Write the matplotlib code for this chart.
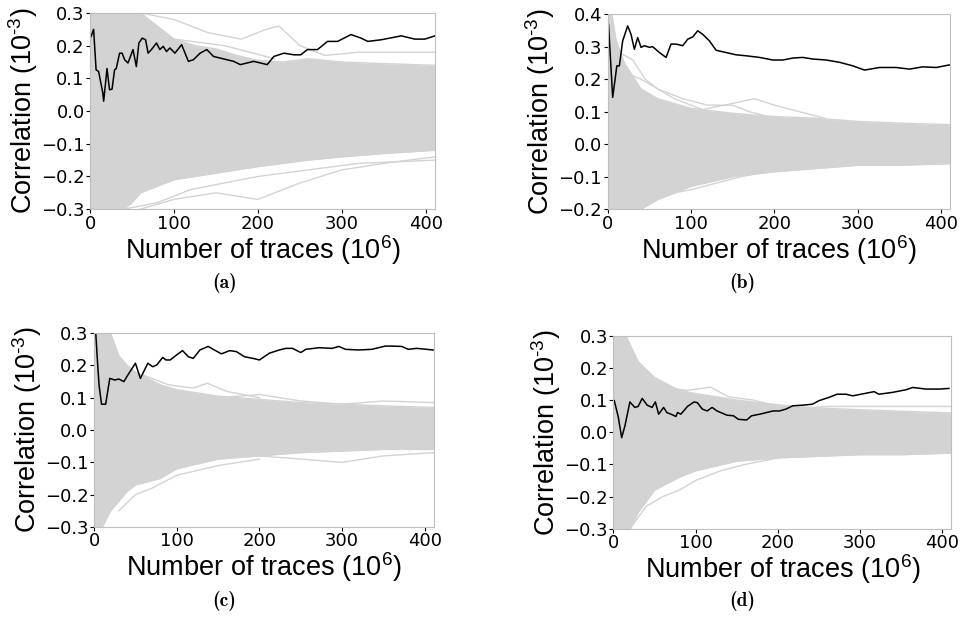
import matplotlib.pyplot as plt

# correct key guess (black line), values in 1e-3
a_x = [1, 4, 7, 10, 15, 16, 20, 23, 26, 29, 31, 35, 38, 41, 45, 51, 55, 58, 62, 66, 69, 73, 79, 83, 87, 91,
       95, 101, 109, 117, 123, 131, 139, 147, 155, 171, 179, 195, 211, 219, 231, 243, 251, 259, 271, 283, 295,
       311, 323, 331, 347, 371, 387, 399, 411]
a_y = [0.228, 0.25, 0.126, 0.121, 0.055, 0.03, 0.13, 0.065, 0.067, 0.126, 0.13, 0.177, 0.177, 0.157, 0.147,
       0.188, 0.136, 0.208, 0.223, 0.218, 0.177, 0.188, 0.208, 0.188, 0.198, 0.182, 0.193, 0.177, 0.203, 0.152,
       0.157, 0.177, 0.188, 0.167, 0.162, 0.152, 0.142, 0.152, 0.142, 0.167, 0.177, 0.172, 0.172, 0.188, 0.188,
       0.213, 0.213, 0.234, 0.223, 0.213, 0.218, 0.23, 0.22, 0.22, 0.23]

b_x = [1, 6, 11, 14, 18, 24, 28, 32, 36, 40, 44, 50, 54, 62, 70, 76, 82, 90, 96, 102, 108, 114, 122, 130,
       142, 154, 166, 182, 198, 210, 222, 234, 246, 262, 278, 294, 308, 326, 346, 362, 378, 394, 410]
b_y = [0.369, 0.144, 0.241, 0.241, 0.318, 0.364, 0.338, 0.292, 0.328, 0.298, 0.303, 0.298, 0.300, 0.282,
       0.267, 0.308, 0.308, 0.303, 0.323, 0.330, 0.349, 0.338, 0.318, 0.289, 0.282, 0.275, 0.272, 0.267,
       0.259, 0.259, 0.265, 0.267, 0.262, 0.259, 0.252, 0.241, 0.228, 0.236, 0.236, 0.231, 0.238, 0.236, 0.244]

c_x = [2, 4, 6, 9, 14, 19, 25, 30, 36, 41, 50, 56, 65, 71, 76, 83, 87, 92, 100, 107, 114, 120, 128, 138,
       144, 154, 164, 172, 182, 192, 200, 212, 224, 232, 240, 250, 256, 272, 288, 296, 304, 320, 336, 352,
       360, 372, 380, 390, 410]
c_y = [0.30, 0.217, 0.14, 0.08, 0.08, 0.16, 0.155, 0.158, 0.15, 0.171, 0.207, 0.16, 0.207, 0.196, 0.202,
       0.225, 0.217, 0.217, 0.233, 0.246, 0.227, 0.222, 0.248, 0.259, 0.25, 0.236, 0.246, 0.243, 0.227, 0.222,
       0.217, 0.238, 0.248, 0.253, 0.253, 0.24, 0.25, 0.255, 0.253, 0.259, 0.25, 0.248, 0.25, 0.26, 0.26,
       0.259, 0.25, 0.253, 0.248]

d_x = [1, 6, 10, 14, 20, 26, 30, 35, 41, 47, 51, 55, 61, 65, 70, 76, 78, 82, 90, 98, 102, 108, 114, 120,
       126, 138, 146, 152, 162, 168, 178, 186, 194, 202, 210, 218, 230, 242, 250, 262, 272, 283, 291, 307,
       317, 323, 340, 356, 364, 380, 396, 408]
d_y = [0.098, 0.046, -0.017, 0.02, 0.094, 0.077, 0.08, 0.105, 0.084, 0.077, 0.094, 0.056, 0.077, 0.061,
       0.056, 0.049, 0.061, 0.056, 0.08, 0.094, 0.092, 0.072, 0.066, 0.077, 0.066, 0.053, 0.051, 0.04, 0.038,
       0.051, 0.056, 0.061, 0.066, 0.066, 0.072, 0.082, 0.084, 0.087, 0.098, 0.108, 0.118, 0.118, 0.113,
       0.121, 0.126, 0.118, 0.124, 0.132, 0.139, 0.134, 0.134, 0.136]

# wrong key guesses: dense band (upper / lower edge)
a_env_x = [0, 10, 20, 30, 40, 50, 60, 80, 100, 125, 150, 175, 200, 230, 260, 300, 350, 411]
a_env_hi = [0.35, 0.35, 0.35, 0.35, 0.35, 0.32, 0.30, 0.26, 0.22, 0.20, 0.19, 0.17, 0.155, 0.15, 0.16, 0.15, 0.145, 0.14]
a_env_lo = [-0.35, -0.35, -0.35, -0.35, -0.30, -0.28, -0.25, -0.23, -0.21, -0.20, -0.19, -0.18, -0.17, -0.16,
            -0.15, -0.14, -0.13, -0.12]
b_env_x = [0, 5, 10, 20, 40, 60, 100, 150, 200, 250, 300, 350, 411]
b_env_hi = [0.45, 0.40, 0.32, 0.25, 0.17, 0.14, 0.11, 0.095, 0.085, 0.08, 0.07, 0.065, 0.06]
b_env_lo = [-0.25, -0.25, -0.25, -0.22, -0.20, -0.17, -0.13, -0.10, -0.085, -0.075, -0.065, -0.065, -0.06]
c_env_x = [0, 10, 20, 30, 40, 50, 80, 100, 150, 200, 250, 300, 350, 411]
c_env_hi = [0.35, 0.35, 0.30, 0.23, 0.20, 0.18, 0.14, 0.125, 0.105, 0.095, 0.085, 0.08, 0.075, 0.07]
c_env_lo = [-0.35, -0.30, -0.25, -0.22, -0.19, -0.17, -0.15, -0.12, -0.09, -0.08, -0.07, -0.065, -0.06, -0.06]
d_env_x = [0, 10, 15, 30, 50, 80, 100, 150, 200, 250, 300, 350, 411]
d_env_hi = [0.35, 0.35, 0.30, 0.22, 0.17, 0.13, 0.12, 0.10, 0.085, 0.075, 0.07, 0.065, 0.06]
d_env_lo = [-0.35, -0.35, -0.33, -0.25, -0.18, -0.14, -0.12, -0.09, -0.08, -0.075, -0.07, -0.07, -0.065]

# a few stray wrong-key lines outside the band
a_out = [([60, 100, 140, 180, 210, 225, 250, 280, 320, 360, 411], [0.30, 0.28, 0.24, 0.22, 0.25, 0.26, 0.20, 0.17, 0.18, 0.18, 0.18]),
         ([60, 100, 150, 200, 250, 300, 350, 411], [-0.30, -0.27, -0.25, -0.27, -0.22, -0.18, -0.16, -0.14]),
         ([40, 80, 120, 160, 200, 260, 320, 411], [-0.30, -0.28, -0.24, -0.22, -0.20, -0.18, -0.16, -0.15]),
         ([100, 130, 160, 190, 220], [0.22, 0.21, 0.20, 0.18, 0.16])]
b_out = [([15, 30, 45, 60, 80, 100, 120], [0.28, 0.26, 0.20, 0.17, 0.14, 0.12, 0.10]),
         ([20, 40, 60, 90, 120, 150, 170, 200], [0.22, 0.20, 0.17, 0.14, 0.12, 0.12, 0.10, 0.08]),
         ([100, 140, 176, 200, 230, 260], [0.10, 0.12, 0.14, 0.12, 0.10, 0.08]),
         ([40, 60, 80, 100, 130, 160, 200, 260], [-0.20, -0.17, -0.15, -0.14, -0.12, -0.10, -0.08, -0.065])]
c_out = [([60, 90, 120, 137, 160, 200], [0.17, 0.14, 0.13, 0.145, 0.12, 0.10]),
         ([150, 200, 250, 300, 350, 411], [0.10, 0.11, 0.09, 0.08, 0.09, 0.085]),
         ([30, 50, 70, 100, 150, 200], [-0.25, -0.20, -0.18, -0.14, -0.11, -0.09]),
         ([200, 250, 300, 350, 411], [-0.08, -0.09, -0.10, -0.08, -0.07])]
d_out = [([60, 90, 118, 140, 170, 200], [0.14, 0.13, 0.14, 0.11, 0.10, 0.08]),
         ([20, 40, 60, 80, 100, 130, 160, 200], [-0.30, -0.23, -0.20, -0.18, -0.15, -0.12, -0.10, -0.08]),
         ([200, 260, 320, 411], [0.07, 0.08, 0.08, 0.08])]

panels = [
    ('(a)', a_x, a_y, a_env_x, a_env_hi, a_env_lo, a_out, (-0.3, 0.3), [-0.3, -0.2, -0.1, 0.0, 0.1, 0.2, 0.3],
     [0.094, 0.661, 0.359, 0.318], (0.234, 0.541)),
    ('(b)', b_x, b_y, b_env_x, b_env_hi, b_env_lo, b_out, (-0.2, 0.4), [-0.2, -0.1, 0.0, 0.1, 0.2, 0.3, 0.4],
     [0.633, 0.661, 0.357, 0.316], (0.773, 0.541)),
    ('(c)', c_x, c_y, c_env_x, c_env_hi, c_env_lo, c_out, (-0.3, 0.3), [-0.3, -0.2, -0.1, 0.0, 0.1, 0.2, 0.3],
     [0.098, 0.146, 0.354, 0.314], (0.234, 0.026)),
    ('(d)', d_x, d_y, d_env_x, d_env_hi, d_env_lo, d_out, (-0.3, 0.3), [-0.3, -0.2, -0.1, 0.0, 0.1, 0.2, 0.3],
     [0.639, 0.143, 0.352, 0.313], (0.773, 0.026)),
]

plt.rcParams['mathtext.fontset'] = 'custom'
plt.rcParams['mathtext.rm'] = 'Liberation Sans'
plt.rcParams['mathtext.default'] = 'regular'
fig = plt.figure(figsize=(9.6, 6.17), dpi=100)

for name, bx, by, ex, hi, lo, outs, ylim, yticks, pos, cap in panels:
    ax = fig.add_axes(pos)
    ax.fill_between(ex, lo, hi, color='lightgrey', linewidth=0)
    ax.plot(ex, hi, color='lightgrey', lw=1)
    ax.plot(ex, lo, color='lightgrey', lw=1)
    for ox, oy in outs:
        ax.plot(ox, oy, color='lightgrey', lw=1)
    ax.plot(bx, by, color='black', lw=1.1)

    ax.set_xlim(0, 411)
    ax.set_ylim(*ylim)
    ax.set_xticks([0, 100, 200, 300, 400])
    ax.set_yticks(yticks)
    ax.set_yticklabels([f'{t:.1f}'.replace('-', '\u2212') for t in yticks])
    ax.tick_params(labelsize=13, length=3, width=0.8, pad=1)
    for s in ax.spines.values():
        s.set_color('#bfbfbf')
        s.set_linewidth(0.8)
    ax.set_xlabel('Number of traces (10$^{6}$)', fontsize=19.5, family='Liberation Sans', labelpad=0)
    ax.set_ylabel('Correlation (10$^{\u2010 3}$)', fontsize=19.5, family='Liberation Sans', labelpad=1)
    fig.text(cap[0], cap[1], name, ha='center', va='center', fontsize=14, family='cmb10')

fig.savefig('out.png', dpi=100)
